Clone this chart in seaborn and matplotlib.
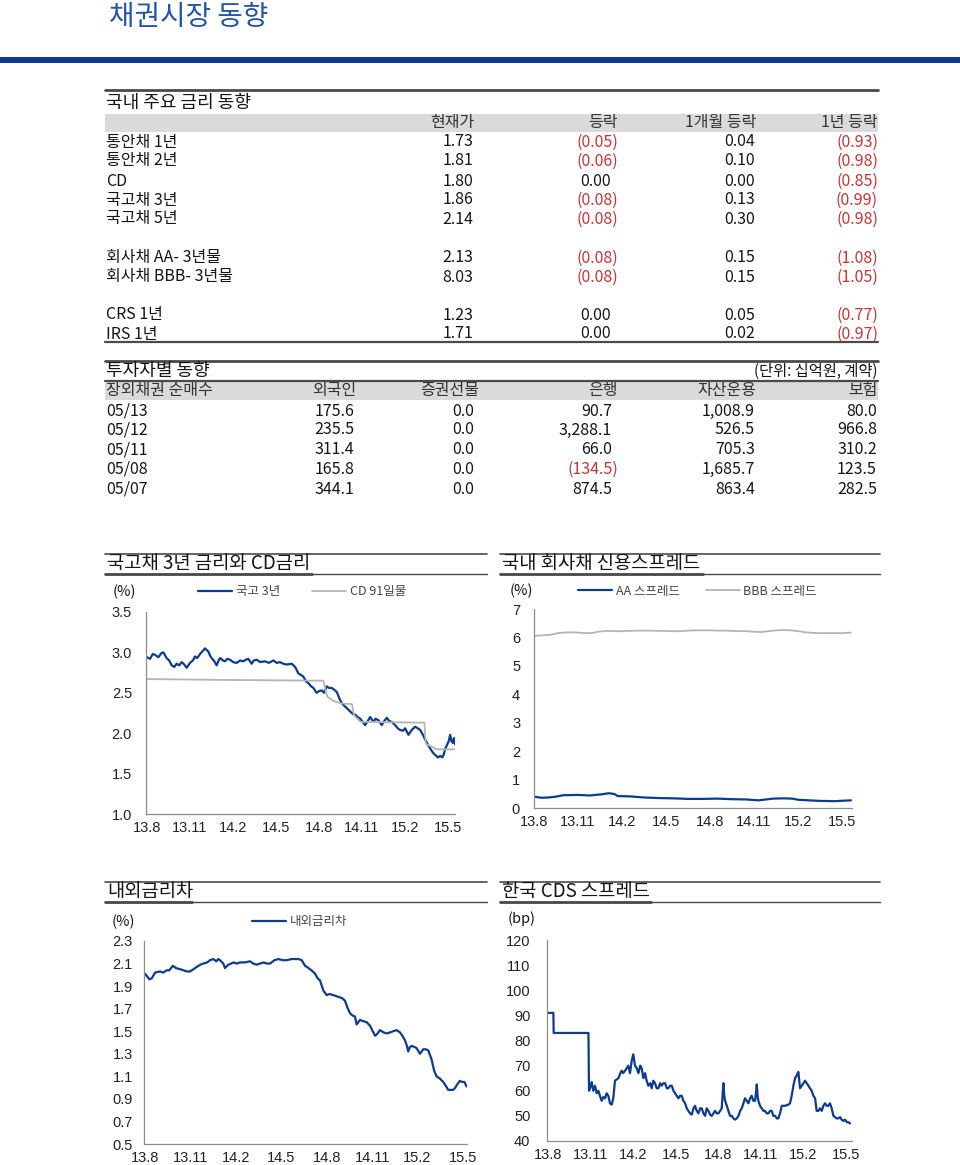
import matplotlib
matplotlib.use('Agg')
import matplotlib.pyplot as plt
import seaborn as sns
from matplotlib.lines import Line2D
from matplotlib.patches import Rectangle

sns.set_style('white')
plt.rcParams['font.family'] = ['Noto Sans CJK KR', 'DejaVu Sans']
plt.rcParams['axes.unicode_minus'] = False
plt.rcParams['text.color'] = '#151515'

# ---------------- data ----------------
# 국내 주요 금리 동향
rate_names = ['통안채 1년', '통안채 2년', 'CD', '국고채 3년', '국고채 5년',
              '회사채 AA- 3년물', '회사채 BBB- 3년물', 'CRS 1년', 'IRS 1년']
rate_now = [1.73, 1.81, 1.80, 1.86, 2.14, 2.13, 8.03, 1.23, 1.71]
rate_chg = [-0.05, -0.06, 0.00, -0.08, -0.08, -0.08, -0.08, 0.00, 0.00]
rate_1m = [0.04, 0.10, 0.00, 0.13, 0.30, 0.15, 0.15, 0.05, 0.02]
rate_1y = [-0.93, -0.98, -0.85, -0.99, -0.98, -1.08, -1.05, -0.77, -0.97]

# 투자자별 동향 (단위: 십억원, 계약)
inv_dates = ['05/13', '05/12', '05/11', '05/08', '05/07']
inv_foreign = [175.6, 235.5, 311.4, 165.8, 344.1]
inv_futures = [0.0, 0.0, 0.0, 0.0, 0.0]
inv_bank = [90.7, 3288.1, 66.0, -134.5, 874.5]
inv_asset = [1008.9, 526.5, 705.3, 1685.7, 863.4]
inv_insur = [80.0, 966.8, 310.2, 123.5, 282.5]

# x axis: months since 2013.08
month_ticks = [0, 3, 6, 9, 12, 15, 18, 21]
month_labels = ['13.8', '13.11', '14.2', '14.5', '14.8', '14.11', '15.2', '15.5']

# 국고 3년 (%)
ktb3 = [(0.00, 2.94), (0.21, 2.92), (0.40, 2.98), (0.56, 2.97), (0.79, 2.94), (1.00, 2.99),
        (1.14, 3.00), (1.37, 2.93), (1.55, 2.90), (1.72, 2.84), (1.90, 2.82), (2.07, 2.86),
        (2.25, 2.84), (2.42, 2.88), (2.60, 2.85), (2.77, 2.81), (3.00, 2.87), (3.20, 2.90),
        (3.35, 2.95), (3.50, 2.93), (3.70, 2.98), (3.90, 3.02), (4.05, 3.05), (4.28, 3.01),
        (4.40, 2.96), (4.51, 2.93), (4.70, 2.89), (4.86, 2.84), (5.00, 2.90), (5.10, 2.93),
        (5.30, 2.90), (5.44, 2.89), (5.60, 2.92), (5.79, 2.91), (6.00, 2.88), (6.26, 2.87),
        (6.50, 2.90), (6.72, 2.89), (6.90, 2.91), (7.07, 2.92), (7.30, 2.86), (7.45, 2.90),
        (7.65, 2.91), (7.90, 2.88), (8.23, 2.89), (8.50, 2.87), (8.82, 2.90), (9.05, 2.87),
        (9.28, 2.88), (9.50, 2.86), (9.74, 2.85), (10.10, 2.86), (10.33, 2.82), (10.45, 2.78),
        (10.56, 2.74), (10.75, 2.72), (10.91, 2.70), (11.10, 2.64), (11.26, 2.62), (11.45, 2.58),
        (11.61, 2.56), (11.84, 2.50), (12.00, 2.52), (12.19, 2.53), (12.35, 2.50), (12.54, 2.58),
        (12.70, 2.56), (12.89, 2.56), (13.05, 2.54), (13.24, 2.51), (13.47, 2.41), (13.65, 2.36),
        (13.82, 2.33), (14.00, 2.30), (14.17, 2.27), (14.35, 2.24), (14.52, 2.23), (14.70, 2.20),
        (14.87, 2.18), (15.05, 2.14), (15.22, 2.10), (15.40, 2.15), (15.57, 2.20), (15.80, 2.14),
        (15.95, 2.18), (16.15, 2.16), (16.38, 2.10), (16.55, 2.15), (16.73, 2.19), (16.90, 2.15),
        (17.08, 2.14), (17.31, 2.10), (17.50, 2.06), (17.66, 2.04), (17.85, 2.03), (18.01, 2.06),
        (18.24, 1.98), (18.47, 2.04), (18.71, 2.08), (18.90, 2.06), (19.06, 2.04), (19.25, 1.98),
        (19.41, 1.92), (19.60, 1.86), (19.76, 1.81), (19.95, 1.76), (20.11, 1.73), (20.30, 1.70),
        (20.46, 1.72), (20.60, 1.70), (20.69, 1.73), (20.80, 1.80), (20.92, 1.85), (21.05, 1.90),
        (21.15, 1.98), (21.25, 1.90), (21.34, 1.88), (21.42, 1.94), (21.50, 1.86)]

# CD 91일물 (%)
cd91 = [(0.00, 2.67), (5.00, 2.66), (12.30, 2.65), (12.50, 2.50), (12.60, 2.45), (13.00, 2.40),
        (13.50, 2.37), (14.30, 2.36), (14.45, 2.22), (14.90, 2.14), (19.35, 2.13), (19.45, 1.87),
        (19.90, 1.83), (20.20, 1.80), (21.50, 1.80)]

# AA / BBB 스프레드 (%)
aa_spread = [(0.0, 0.40), (0.5, 0.36), (1.0, 0.37), (1.5, 0.40), (2.0, 0.45), (3.0, 0.46),
             (3.8, 0.44), (4.6, 0.48), (5.1, 0.52), (5.5, 0.49), (5.7, 0.42), (6.5, 0.41),
             (7.5, 0.37), (8.5, 0.35), (9.5, 0.34), (10.5, 0.32), (11.5, 0.32), (12.5, 0.33),
             (13.5, 0.31), (14.5, 0.30), (15.3, 0.27), (15.8, 0.30), (16.3, 0.33), (17.0, 0.34),
             (17.6, 0.33), (18.0, 0.29), (18.7, 0.27), (19.5, 0.25), (20.5, 0.24), (21.6, 0.27)]
bbb_spread = [(0.0, 6.05), (0.4, 6.07), (0.8, 6.08), (1.2, 6.10), (1.6, 6.15), (2.0, 6.17),
              (2.5, 6.18), (3.0, 6.17), (3.5, 6.15), (4.0, 6.16), (4.5, 6.21), (5.0, 6.23),
              (5.5, 6.22), (6.0, 6.22), (6.5, 6.23), (7.0, 6.24), (7.5, 6.24), (8.0, 6.24),
              (8.5, 6.23), (9.0, 6.23), (9.5, 6.22), (10.0, 6.22), (10.5, 6.24), (11.0, 6.25),
              (11.5, 6.25), (12.0, 6.25), (12.5, 6.24), (13.0, 6.24), (13.5, 6.23), (14.0, 6.22),
              (14.5, 6.22), (15.0, 6.20), (15.5, 6.19), (16.0, 6.22), (16.5, 6.25), (17.0, 6.26),
              (17.5, 6.25), (18.0, 6.22), (18.5, 6.18), (19.0, 6.16), (19.5, 6.15), (20.0, 6.15),
              (20.5, 6.15), (21.0, 6.15), (21.6, 6.17)]

# 내외금리차 (%)
rate_gap = [(0.00, 2.01), (0.29, 1.96), (0.45, 1.97), (0.66, 2.02), (0.99, 2.03), (1.20, 2.02),
            (1.43, 2.04), (1.60, 2.04), (1.83, 2.08), (2.05, 2.06), (2.31, 2.05), (2.55, 2.04),
            (2.75, 2.03), (2.97, 2.03), (3.20, 2.05), (3.41, 2.07), (3.65, 2.09), (3.85, 2.10),
            (4.10, 2.11), (4.29, 2.13), (4.51, 2.14), (4.70, 2.12), (4.84, 2.14), (4.95, 2.13),
            (5.17, 2.10), (5.28, 2.06), (5.50, 2.09), (5.70, 2.10), (5.83, 2.11), (6.05, 2.10),
            (6.27, 2.11), (6.60, 2.11), (6.94, 2.12), (7.15, 2.10), (7.38, 2.09), (7.60, 2.10),
            (7.82, 2.11), (8.05, 2.10), (8.26, 2.10), (8.55, 2.13), (8.81, 2.14), (9.10, 2.13),
            (9.36, 2.13), (9.70, 2.14), (10.00, 2.14), (10.13, 2.14), (10.35, 2.13), (10.57, 2.08),
            (10.70, 2.07), (10.79, 2.06), (11.00, 2.04), (11.23, 2.01), (11.40, 1.97), (11.56, 1.95),
            (11.78, 1.86), (12.00, 1.82), (12.20, 1.83), (12.44, 1.82), (12.65, 1.81), (12.88, 1.80),
            (13.05, 1.79), (13.21, 1.77), (13.40, 1.70), (13.54, 1.66), (13.70, 1.64), (13.87, 1.63),
            (13.98, 1.56), (14.20, 1.60), (14.40, 1.59), (14.64, 1.58), (14.86, 1.55), (15.08, 1.49),
            (15.20, 1.46), (15.30, 1.47), (15.52, 1.51), (15.75, 1.49), (15.96, 1.48), (16.20, 1.49),
            (16.40, 1.50), (16.62, 1.51), (16.84, 1.49), (17.00, 1.46), (17.17, 1.42), (17.30, 1.37),
            (17.39, 1.32), (17.50, 1.36), (17.61, 1.37), (17.80, 1.36), (17.94, 1.35), (18.16, 1.30),
            (18.38, 1.34), (18.55, 1.34), (18.71, 1.33), (18.93, 1.25), (19.10, 1.15), (19.26, 1.10),
            (19.48, 1.08), (19.70, 1.05), (19.85, 1.02), (20.03, 0.98), (20.20, 0.98), (20.36, 0.98),
            (20.50, 1.00), (20.58, 1.02), (20.80, 1.06), (20.95, 1.05), (21.10, 1.05), (21.24, 1.01)]

# 한국 CDS 스프레드 (bp)
cds = [(0.00, 91), (0.38, 91), (0.40, 83), (2.85, 83), (2.89, 60), (2.96, 61), (3.08, 63.5),
       (3.19, 60), (3.31, 62), (3.43, 59), (3.55, 60), (3.66, 58), (3.78, 56), (3.90, 57.5),
       (4.02, 57), (4.13, 59), (4.25, 58), (4.37, 55), (4.49, 54.5), (4.60, 57), (4.72, 64),
       (4.96, 65), (5.10, 67), (5.19, 68), (5.30, 67), (5.43, 68), (5.55, 69), (5.66, 70),
       (5.78, 67), (5.90, 72), (6.01, 74.5), (6.13, 70), (6.25, 69), (6.37, 67), (6.50, 70),
       (6.60, 69), (6.72, 65), (6.84, 67), (6.95, 64), (7.07, 62), (7.20, 63), (7.31, 61),
       (7.42, 64), (7.54, 63), (7.66, 61), (7.78, 61), (7.90, 63), (8.01, 62), (8.13, 63),
       (8.25, 63), (8.37, 61), (8.48, 61), (8.60, 62), (8.72, 62), (8.84, 60), (8.95, 59),
       (9.07, 58), (9.19, 57), (9.30, 58), (9.42, 58), (9.54, 56), (9.66, 55), (9.78, 53),
       (9.89, 52), (10.01, 51), (10.13, 50.5), (10.25, 53), (10.36, 54), (10.48, 52), (10.60, 51),
       (10.72, 53), (10.83, 53), (10.95, 51), (11.07, 50), (11.18, 53), (11.30, 52), (11.42, 50.5),
       (11.54, 50), (11.66, 51), (11.77, 52), (11.89, 51), (12.01, 51), (12.13, 52), (12.24, 53),
       (12.30, 58), (12.36, 63), (12.42, 58), (12.48, 56), (12.60, 54), (12.71, 52), (12.83, 50),
       (12.95, 50), (13.06, 49), (13.18, 48.5), (13.30, 49), (13.42, 50), (13.54, 52), (13.65, 53),
       (13.77, 55), (13.88, 57), (14.00, 56), (14.12, 55), (14.24, 57), (14.35, 58), (14.47, 56),
       (14.59, 56), (14.65, 59), (14.71, 62.5), (14.77, 58), (14.82, 56), (14.94, 54), (15.06, 53),
       (15.18, 52), (15.29, 52), (15.41, 51), (15.53, 51), (15.65, 52), (15.76, 52), (15.88, 50),
       (16.00, 50), (16.12, 49), (16.23, 49), (16.35, 51), (16.47, 54), (16.70, 54), (16.94, 54.5),
       (17.05, 55), (17.17, 58), (17.29, 62), (17.41, 65), (17.52, 66), (17.64, 67.5), (17.76, 61),
       (17.88, 62), (18.00, 63), (18.11, 64), (18.23, 63), (18.35, 62), (18.46, 61), (18.58, 60),
       (18.70, 58), (18.82, 57), (18.93, 52), (19.05, 52), (19.17, 53), (19.29, 52), (19.40, 54),
       (19.52, 55), (19.64, 54), (19.75, 54), (19.87, 55), (19.99, 53), (20.11, 50), (20.22, 49.5),
       (20.34, 49), (20.46, 49), (20.58, 49.5), (20.69, 48.5), (20.81, 48), (20.93, 48.5),
       (21.05, 47.5), (21.17, 47.5), (21.28, 47)]

# ---------------- page helpers ----------------
W, H = 960, 1165
fig = plt.figure(figsize=(W / 100, H / 100), dpi=100)

NAVY = '#0c3a8e'
BLUE = '#0d3b8f'
GRAY = '#b4b4b4'
RED = '#cc3333'
RULE = '#4a4a4a'
TXT = '#151515'
FS = 11.5


def fx(x):
    return x / W


def fy(y):
    return 1 - y / H


def put(x, y, s, **kw):
    kw.setdefault('va', 'center')
    kw.setdefault('fontsize', FS)
    kw.setdefault('color', TXT)
    fig.text(fx(x), fy(y), s, **kw)


def hline(x0, x1, y, lw=1.0, color=RULE):
    fig.add_artist(Line2D([fx(x0), fx(x1)], [fy(y), fy(y)], lw=lw, color=color,
                          transform=fig.transFigure))


def band(x0, x1, y0, y1, color='#dadada'):
    fig.add_artist(Rectangle((fx(x0), fy(y1)), (x1 - x0) / W, (y1 - y0) / H,
                             facecolor=color, edgecolor='none', transform=fig.transFigure))


def acct(v, d):
    s = f'{abs(v):,.{d}f}'
    return (f'({s})', RED) if v < 0 else (s, TXT)


# ---------------- page title ----------------
put(109, 25, '채권시장 동향', fontsize=20, color='#2456a6', va='baseline')
band(0, 960, 57, 63, NAVY)

# ---------------- table 1 ----------------
hline(105, 878, 90, lw=2.0)
put(106, 103, '국내 주요 금리 동향', fontsize=13)
band(105, 878, 114, 132)
for s, xr in zip(['현재가', '등락', '1개월 등락', '1년 등락'], [474, 618, 756, 878]):
    put(xr, 123, s, ha='right', color='#333333')

row_y = [142, 161, 181, 200, 219, 258, 277, 315, 334]
for i, yy in enumerate(row_y):
    put(106, yy, rate_names[i])
    put(473, yy, f'{rate_now[i]:.2f}', ha='right')
    s, c = acct(rate_chg[i], 2)
    put(618 if rate_chg[i] < 0 else 611, yy, s, ha='right', color=c)
    s, c = acct(rate_1m[i], 2)
    put(755, yy, s, ha='right', color=c)
    s, c = acct(rate_1y[i], 2)
    put(878, yy, s, ha='right', color=c)
hline(105, 878, 342, lw=1.6)

# ---------------- table 2 ----------------
hline(105, 878, 361, lw=2.0)
put(106, 371, '투자자별 동향', fontsize=13)
put(878, 371, '(단위: 십억원, 계약)', ha='right', fontsize=11)
hline(105, 878, 381, lw=1.6)
band(105, 878, 382, 400)
put(106, 391, '장외채권 순매수', color='#333333')
for s, xr in zip(['외국인', '증권선물', '은행', '자산운용', '보험'], [356, 479, 618, 756, 878]):
    put(xr, 391, s, ha='right', color='#333333')

inv_y = [411, 430, 450, 469, 489]
for i, yy in enumerate(inv_y):
    put(106, yy, inv_dates[i])
    put(354, yy, f'{inv_foreign[i]:,.1f}', ha='right')
    put(474, yy, f'{inv_futures[i]:,.1f}', ha='right')
    s, c = acct(inv_bank[i], 1)
    put(618 if inv_bank[i] < 0 else 612, yy, s, ha='right', color=c)
    put(755, yy, f'{inv_asset[i]:,.1f}', ha='right')
    put(877, yy, f'{inv_insur[i]:,.1f}', ha='right')


# ---------------- charts ----------------
def section(x0, x1, y_top, title, title_end):
    hline(x0, x1, y_top, lw=1.2)
    put(x0 + 2, y_top + 10, title, fontsize=13.5)
    hline(x0, x1, y_top + 20, lw=1.0)
    hline(x0, title_end, y_top + 20, lw=2.0)


def chart(box, xlim, ylim, yticks, ylabels, series, pad):
    l, t, r, b = box
    ax = fig.add_axes([fx(l), fy(b), (r - l) / W, (b - t) / H])
    for pts, color, lw, label in series:
        m = [p[0] for p in pts]
        v = [p[1] for p in pts]
        sns.lineplot(x=m, y=v, ax=ax, color=color, lw=lw, estimator=None, sort=False,
                     label=label)
    ax.set_xlim(*xlim)
    ax.set_ylim(*ylim)
    ax.set_xticks(month_ticks, labels=month_labels, fontfamily='Liberation Sans')
    ax.set_yticks(yticks, labels=ylabels, fontfamily='Liberation Sans')
    ax.set_xlabel('')
    ax.set_ylabel('')
    for sp in ['top', 'right']:
        ax.spines[sp].set_visible(False)
    for sp in ['left', 'bottom']:
        ax.spines[sp].set_color('#8c8c8c')
        ax.spines[sp].set_linewidth(0.9)
    ax.tick_params(direction='in', length=4, color='#8c8c8c', labelsize=10.5,
                   labelcolor='#222222')
    ax.tick_params(axis='y', pad=pad)
    ax.tick_params(axis='x', pad=5)
    if ax.get_legend() is not None:
        ax.get_legend().remove()
    return ax


def legend(ax, x, y, cs):
    ax.legend(loc='center left', bbox_to_anchor=(fx(x), fy(y)), bbox_transform=fig.transFigure,
              ncol=2, frameon=False, fontsize=9, handlelength=2.7, handletextpad=0.3,
              columnspacing=cs, borderpad=0, borderaxespad=0, labelcolor='#444444')


# chart 1: 국고채 3년 금리와 CD금리
section(105, 487, 554, '국고채 3년 금리와 CD금리', 312)
ax1 = chart((146, 612, 455, 814), (-0.07, 21.49), (1.0, 3.5),
            [1.0, 1.5, 2.0, 2.5, 3.0, 3.5], ['1.0', '1.5', '2.0', '2.5', '3.0', '3.5'],
            [(ktb3, BLUE, 1.6, '국고 3년'), (cd91, GRAY, 1.3, 'CD 91일물')], 10)
legend(ax1, 198, 592, 2.6)
put(113, 592, '(%)', fontsize=10.5)

# chart 2: 국내 회사채 신용스프레드
section(500, 880, 554, '국내 회사채 신용스프레드', 703)
ax2 = chart((534, 609, 852, 808), (0, 21.68), (0, 7),
            list(range(8)), [str(i) for i in range(8)],
            [(aa_spread, BLUE, 1.6, 'AA 스프레드'), (bbb_spread, GRAY, 1.3, 'BBB 스프레드')], 10)
legend(ax2, 578, 591, 2.1)
put(510, 591, '(%)', fontsize=10.5)

# chart 3: 내외금리차
section(105, 487, 882, '내외금리차', 192)
gap_ticks = [0.5, 0.7, 0.9, 1.1, 1.3, 1.5, 1.7, 1.9, 2.1, 2.3]
ax3 = chart((144, 941, 467, 1144), (-0.07, 21.27), (0.5, 2.3),
            gap_ticks, [f'{t:.1f}' for t in gap_ticks],
            [(rate_gap, BLUE, 1.6, '내외금리차')], 8)
legend(ax3, 252, 922, 2.0)
put(112, 922, '(%)', fontsize=10.5)

# chart 4: 한국 CDS 스프레드
section(500, 880, 882, '한국 CDS 스프레드', 651)
cds_ticks = [40, 50, 60, 70, 80, 90, 100, 110, 120]
ax4 = chart((547, 940, 852, 1141), (-0.07, 21.42), (40, 120),
            cds_ticks, [str(t) for t in cds_ticks],
            [(cds, BLUE, 1.6, None)], 12)
put(508, 919, '(bp)', fontsize=10.5)

fig.savefig('out.png', dpi=100)
